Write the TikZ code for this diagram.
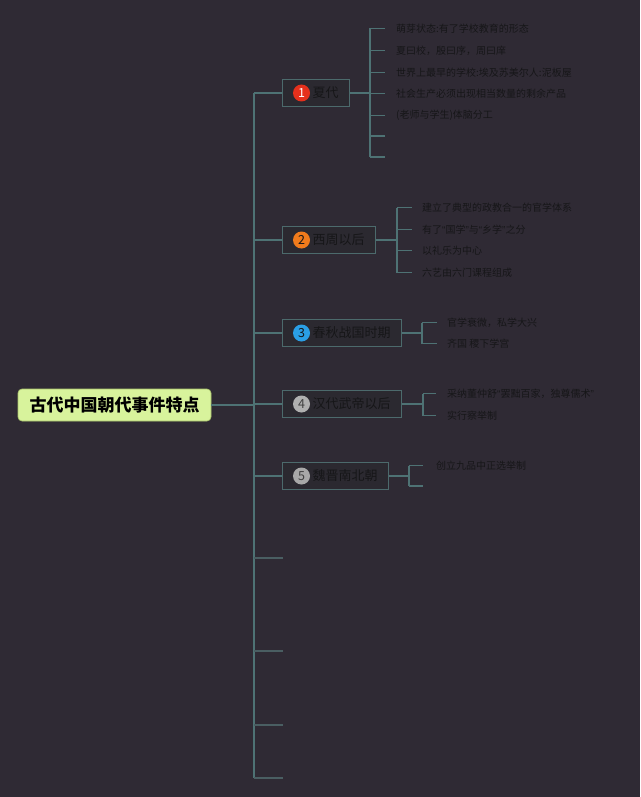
\documentclass[tikz,border=0pt]{standalone}
\usepackage{fontspec}
\setmainfont{Noto Sans CJK SC}
\newfontfamily\latq{Liberation Sans}
\newcommand{\myoq}{{\latq “}}
\newcommand{\mycq}{{\latq ”}}
\definecolor{bg}{HTML}{2F2A34}
\definecolor{linec}{HTML}{4E7274}
\definecolor{emptyc}{HTML}{4A5E62}
\definecolor{boxc}{HTML}{4C6A6C}
\definecolor{boxfill}{HTML}{2B2930}
\definecolor{txt}{HTML}{161618}
\definecolor{rootfill}{HTML}{D8F39C}
\definecolor{rootdraw}{HTML}{A9C36A}
\definecolor{cA}{HTML}{E5301C}
\definecolor{cB}{HTML}{F07B1C}
\definecolor{cC}{HTML}{2A9FE6}
\definecolor{cD}{HTML}{B0B0B0}
\definecolor{cE}{HTML}{A8A8A8}
\begin{document}
\begin{tikzpicture}[x=1pt,y=-1pt,
  conn/.style={draw=linec, line width=1.4pt},
  emptyconn/.style={draw=emptyc, line width=1.4pt},
  topic/.style={draw=boxc, fill=boxfill, line width=1.2pt, minimum height=27pt,
    inner xsep=11pt, inner ysep=0pt, anchor=west, text=txt,
    font=\fontsize{13}{13}\selectfont},
  num/.style={circle, inner sep=0pt, minimum size=17pt, text=txt,
    font=\fontsize{12.5}{12.5}\selectfont},
  item/.style={anchor=west, inner sep=0pt, text=txt,
    font=\fontsize{10}{10}\selectfont},
  root/.style={draw=rootdraw, fill=rootfill, rounded corners=4pt, line width=0.6pt,
    minimum width=193pt, minimum height=32pt, inner sep=0pt, text=black,
    font=\fontsize{17}{17}\selectfont\bfseries}]
\useasboundingbox (0,0) rectangle (640,797);
\fill[bg] (0,0) rectangle (640,797);

% root
\node[root] (root) at (114.5,405) {古代中国朝代事件特点};

% topics
\node[topic] (t1) at (282,93) {\hspace*{19pt}夏代};
\node[topic] (t2) at (282,240) {\hspace*{19pt}西周以后};
\node[topic] (t3) at (282,333) {\hspace*{19pt}春秋战国时期};
\node[topic] (t4) at (282,404) {\hspace*{19pt}汉代武帝以后};
\node[topic] (t5) at (282,476) {\hspace*{19pt}魏晋南北朝};

\node[num, fill=cA, text=white] (n1) at ([xshift=19.5pt]t1.west) {1};
\node[num, fill=cB] (n2) at ([xshift=19.5pt]t2.west) {2};
\node[num, fill=cC] (n3) at ([xshift=19.5pt]t3.west) {3};
\node[num, fill=cD, text=black!75] (n4) at ([xshift=19.5pt]t4.west) {4};
\node[num, fill=cE, text=black!75] (n5) at ([xshift=19.5pt]t5.west) {5};

% trunk
\coordinate (tt) at (254,93);
\coordinate (tb) at (254,778);
\coordinate (e1) at (283,558);
\coordinate (e2) at (283,651);
\coordinate (e3) at (283,725);
\coordinate (e4) at (283,778);
\draw[conn] (root.east) -- (tt|-root.east);
\draw[conn] (tt) -- (tb);
\foreach \t in {t1,t2,t3,t4,t5} \draw[conn] (tt|-\t.west) -- (\t.west);
\foreach \e in {e1,e2,e3,e4} \draw[emptyconn] (tt|-\e) -- (\e);

% topic 1 items
\coordinate (v1) at (370,93);
\node[item] (a1) at (396,28.5) {萌芽状态:有了学校教育的形态};
\node[item] (a2) at (396,50.5) {夏曰校，殷曰序，周曰庠};
\node[item] (a3) at (396,72.5) {世界上最早的学校:埃及苏美尔人:泥板屋};
\node[item] (a4) at (396,93.5) {社会生产必须出现相当数量的剩余产品};
\node[item] (a5) at (396,115.5) {(老师与学生)体脑分工};
\coordinate (a6) at (396,136);
\coordinate (a7) at (396,157);
\draw[conn] (t1.east) -- (v1);
\draw[conn] (v1|-a1) -- (v1|-a7);
\foreach \i in {a1,a2,a3,a4,a5,a6,a7} \draw[conn] (v1|-\i) -- ++(15,0);

% topic 2 items
\coordinate (v2) at (397,240);
\node[item] (b1) at (422,207.5) {建立了典型的政教合一的官学体系};
\node[item] (b2) at (422,229.5) {有了\myoq 国学\mycq 与\myoq 乡学\mycq 之分};
\node[item] (b3) at (422,250.5) {以礼乐为中心};
\node[item] (b4) at (422,272.5) {六艺由六门课程组成};
\draw[conn] (t2.east) -- (v2);
\draw[conn] (v2|-b1) -- (v2|-b4);
\foreach \i in {b1,b2,b3,b4} \draw[conn] (v2|-\i) -- ++(15,0);

% topic 3 items
\coordinate (v3) at (422,333);
\node[item] (c1) at (447,322.5) {官学衰微，私学大兴};
\node[item] (c2) at (447,343.5) {齐国 稷下学宫};
\draw[conn] (t3.east) -- (v3);
\draw[conn] (v3|-c1) -- (v3|-c2);
\foreach \i in {c1,c2} \draw[conn] (v3|-\i) -- ++(15,0);

% topic 4 items
\coordinate (v4) at (423,404);
\node[item] (d1) at (447,393.5) {采纳董仲舒\myoq 罢黜百家，独尊儒术\mycq};
\node[item] (d2) at (447,415.5) {实行察举制};
\draw[conn] (t4.east) -- (v4);
\draw[conn] (v4|-d1) -- (v4|-d2);
\foreach \i in {d1,d2} \draw[conn] (v4|-\i) -- ++(13,0);

% topic 5 items
\coordinate (v5) at (409,476);
\node[item] (f1) at (436,465.5) {创立九品中正选举制};
\coordinate (f2) at (436,486);
\draw[conn] (t5.east) -- (v5);
\draw[conn] (v5|-f1) -- (v5|-f2);
\foreach \i in {f1,f2} \draw[conn] (v5|-\i) -- ++(14,0);
\end{tikzpicture}
\end{document}
